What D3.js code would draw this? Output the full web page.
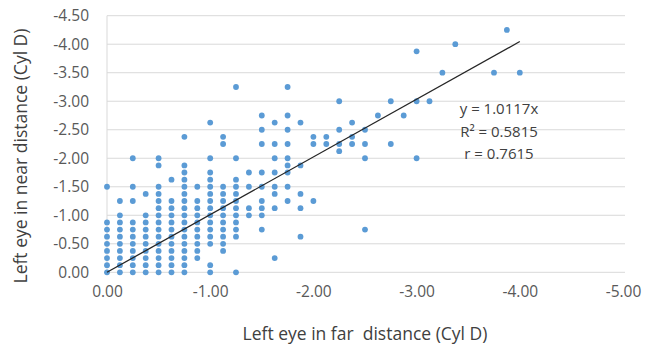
<!DOCTYPE html>
<html>
<head>
<meta charset="utf-8">
<script src="https://cdn.jsdelivr.net/npm/d3@7"></script>
<style>
  html, body { margin: 0; padding: 0; background: #fff; }
  svg { display: block; font-family: "Open Sans", "Noto Sans", sans-serif; }
</style>
</head>
<body>
<svg id="chart" width="655" height="347"></svg>
<script>
// ---- Data (Cyl D) ----
const farColumns = [0, -0.125, -0.25, -0.375, -0.5, -0.625, -0.75, -0.875, -1.0, -1.125, -1.25, -1.375,
  -1.5, -1.625, -1.75, -1.875, -2.0, -2.125, -2.25, -2.375, -2.5, -2.625, -2.75, -2.875, -3.0, -3.125,
  -3.25, -3.375, -3.75, -3.875, -4.0];
const nearByColumn = [
  [0, -0.125, -0.25, -0.375, -0.5, -0.625, -0.75, -0.875, -1.5],
  [0, -0.125, -0.25, -0.375, -0.5, -0.625, -0.75, -0.875, -1.0, -1.25],
  [0, -0.125, -0.25, -0.375, -0.5, -0.625, -0.75, -0.875, -1.25, -1.5, -2.0],
  [0, -0.125, -0.25, -0.375, -0.5, -0.625, -0.75, -0.875, -1.0, -1.375],
  [0, -0.125, -0.25, -0.375, -0.5, -0.625, -0.75, -0.875, -1.0, -1.125, -1.25, -1.375, -1.5, -1.875, -2.0],
  [0, -0.125, -0.25, -0.375, -0.5, -0.625, -0.75, -0.875, -1.0, -1.125, -1.25, -1.625],
  [0, -0.125, -0.25, -0.375, -0.5, -0.625, -0.75, -0.875, -1.0, -1.125, -1.25, -1.375, -1.5, -1.625, -1.75, -1.875, -2.375],
  [-0.25, -0.375, -0.5, -0.625, -0.75, -0.875, -1.0, -1.125, -1.25, -1.5],
  [0, -0.125, -0.5, -0.625, -0.75, -0.875, -1.0, -1.125, -1.25, -1.375, -1.5, -1.625, -1.75, -2.0, -2.625],
  [-0.375, -0.5, -0.625, -0.75, -0.875, -1.0, -1.125, -1.25, -1.375, -1.5, -2.25, -2.375],
  [0, -0.625, -0.75, -0.875, -1.0, -1.125, -1.25, -1.375, -1.5, -1.625, -2.0, -3.25],
  [-1.0, -1.125, -1.5, -1.75],
  [-0.75, -1.0, -1.125, -1.25, -1.5, -1.75, -2.25, -2.5, -2.75],
  [-0.25, -1.125, -1.375, -1.5, -1.75, -2.0, -2.25, -2.625],
  [-1.25, -1.5, -1.75, -1.875, -2.0, -2.25, -2.5, -2.75, -3.25],
  [-0.625, -1.125, -1.375, -1.875, -2.625],
  [-1.25, -2.25, -2.375],
  [-2.25, -2.375],
  [-2.125, -2.25, -2.5, -3.0],
  [-2.25, -2.375, -2.625],
  [-0.75, -2.0, -2.25, -2.5],
  [-2.75],
  [-2.25, -3.0],
  [-2.75],
  [-2.0, -3.0, -3.875],
  [-3.0],
  [-3.5],
  [-4.0],
  [-3.5],
  [-4.25],
  [-3.5]
];
const xTicks = [0, -1, -2, -3, -4, -5];
const yTicks = [0, -0.5, -1, -1.5, -2, -2.5, -3, -3.5, -4, -4.5];
const trendSlope = 1.0117;
const trendRange = [0, -4.0];
const statLines = ["y = 1.0117x", "R\u00B2 = 0.5815", "r = 0.7615"];
const xTitle = "Left eye in far\u00A0 distance (Cyl D)";
const yTitle = "Left eye in near distance (Cyl D)";

// ---- Build points ----
const points = [];
farColumns.forEach((fx, i) => nearByColumn[i].forEach(ny => points.push({ x: fx, y: ny })));

const svg = d3.select("#chart");
const x = d3.scaleLinear().domain([0, -5]).range([107, 623]);
const y = d3.scaleLinear().domain([0, -4.5]).range([272.3, 15.7]);
const fmt = d => d3.format(".2f")(d).replace("\u2212", "-");

// gridlines
svg.append("g")
  .selectAll("line").data(yTicks).join("line")
  .attr("x1", x(0)).attr("x2", 625)
  .attr("y1", d => y(d)).attr("y2", d => y(d))
  .attr("stroke", "#d9d9d9").attr("stroke-width", 1);

// left axis line
svg.append("line")
  .attr("x1", x(0)).attr("x2", x(0))
  .attr("y1", y(-4.5)).attr("y2", y(0))
  .attr("stroke", "#d9d9d9").attr("stroke-width", 1);

// y axis labels
const yAxis = d3.axisLeft(y).tickValues(yTicks).tickFormat(fmt).tickSize(0).tickPadding(0);
const gy = svg.append("g").attr("transform", "translate(89,0)").call(yAxis);
gy.select(".domain").remove();
gy.selectAll("text").attr("font-size", 15.5).attr("fill", "#595959").attr("font-family", "Open Sans");

// x axis labels
const xAxis = d3.axisBottom(x).tickValues(xTicks).tickFormat(fmt).tickSize(0).tickPadding(0);
const gx = svg.append("g").attr("transform", "translate(0,286)").call(xAxis);
gx.select(".domain").remove();
gx.selectAll("text").attr("font-size", 15.5).attr("fill", "#595959").attr("font-family", "Open Sans");

// points
svg.append("g")
  .selectAll("circle").data(points).join("circle")
  .attr("cx", d => x(d.x)).attr("cy", d => y(d.y))
  .attr("r", 2.9).attr("fill", "#5b9bd5");

// trend line
svg.append("line")
  .attr("x1", x(trendRange[0])).attr("y1", y(trendSlope * trendRange[0]))
  .attr("x2", x(trendRange[1])).attr("y2", y(trendSlope * trendRange[1]))
  .attr("stroke", "#262626").attr("stroke-width", 1.3);

// stats text
svg.append("g").selectAll("text").data(statLines).join("text")
  .attr("x", 499).attr("y", (d, i) => 114 + i * 22.5)
  .attr("text-anchor", "middle").attr("font-size", 15).attr("fill", "#404040")
  .text(d => d);

// axis titles
svg.append("text")
  .attr("x", 365).attr("y", 340).attr("text-anchor", "middle")
  .attr("font-size", 17.5).attr("fill", "#404040")
  .text(xTitle);
svg.append("text")
  .attr("transform", "translate(27,156) rotate(-90)")
  .attr("text-anchor", "middle").attr("font-size", 17.5).attr("fill", "#404040")
  .text(yTitle);
</script>
</body>
</html>
